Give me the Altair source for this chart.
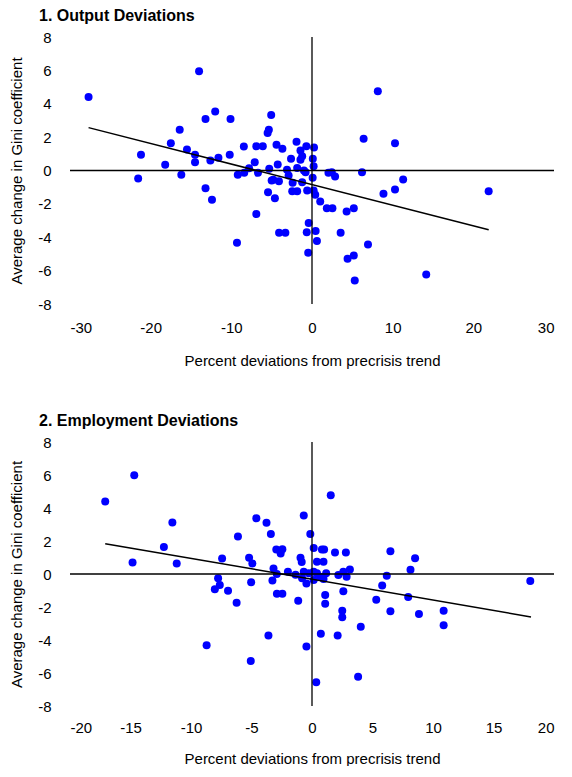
import altair as alt
import pandas as pd

# ---- Panel 1: Output deviations ----
out_x = [-27.7, -21.2, -21.55, -18.2, -17.5, -16.4, -16.2, -15.5, -14.5, -14.5,
         -14.0, -13.2, -12.0, -13.2, -12.4, -12.6, -11.6, -10.1, -10.2, -9.3,
         -8.45, -9.2, -8.4, -7.8, -7.1, -6.7, -6.9, -6.9, -6.1,
         -5.06, -5.35, -5.5, -5.45, -5.3, -5.0, -4.8, -4.1, -4.6, -4.4,
         -3.67, -4.25, -4.08, -3.3, -3.1, -2.9, -2.6, -2.4, -2.45, -1.92,
         -1.84, -1.84, -1.43, -1.22, -1.43, -1.22, -1.0, -0.8, -0.7, -0.6,
         -0.41, -0.65, -0.47, 0.25, 0.1, 0.2, 0.08, 0.2, 0.4, 0.45, 0.61,
         1.02, 1.84, 2.53, 2.04, 2.45, 2.86, 3.55, 4.29, 5.18, 4.41,
         5.18, 5.3, 6.94, 6.2, 6.4, 8.16, 8.86, 10.29, 10.29, 11.3,
         14.16, 21.9]
out_y = [4.4, 0.94, -0.48, 0.34, 1.64, 2.44, -0.26, 1.26, 0.94, 0.5,
         5.95, 3.09, 3.53, -1.06, -1.76, 0.6, 0.76, 3.09, 0.94, -4.33,
         1.44, -0.26, -0.14, 0.14, 0.5, -0.14, -2.61, 1.46, 1.46,
         3.33, 2.44, 2.24, -1.3, 0.1, -0.6, -0.55, -0.65, -1.66, 1.54,
         1.3, 0.36, -3.73, -3.73, 0.05, -0.3, 0.7, -0.74, -1.24, 1.72,
         0.15, -1.24, 1.2, 0.85, 0.65, -0.7, 0.0, -0.1, 1.46, -1.2,
         -3.15, -3.7, -4.93, 1.38, 0.7, 0.26, -0.44, -1.2, -1.46, -3.63, -4.23,
         -1.86, -2.26, -2.26, -0.14, -0.1, -0.36, -3.73, -2.46, -2.26, -5.29,
         -5.09, -6.59, -4.43, -0.1, 1.9, 4.75, -1.4, 1.64, -1.14, -0.54,
         -6.23, -1.24]
out_fit_x = [-27.7, 21.9]
out_fit_y = [2.57, -3.55]
out_ticks = [-30, -20, -10, 0, 10, 20, 30]

# ---- Panel 2: Employment deviations ----
emp_x = [-17.09, -14.69, -14.83, -12.24, -11.54, -11.18, -8.71, -7.76, -8.03, -7.62,
         -6.94, -7.43, -6.23, -6.12, -5.2, -4.93, -5.03, -5.06, -4.6, -3.76,
         -3.4, -3.6,
         -3.18, -3.27, -2.95, -2.45, -2.59, -2.91, -2.9, -2.45, -1.99, -1.36,
         -1.14, -0.95, -0.85, -0.68, -0.46, -0.68, -0.82, -0.46, -0.27, -0.14,
         0.14, 0.14, 0.14, 0.35, 0.41, 0.41, 0.68, 0.82, 0.95, 0.95,
         1.0, 1.09, 1.09, 1.17, 1.55, 0.73,
         1.9, 2.8, 2.18, 2.59, 2.86, 3.13, 2.59, 2.5, 2.5, 2.12,
         4.03, 3.81, 5.31, 5.8, 6.18, 6.48, 6.48, 7.95, 8.14, 8.52,
         8.84, 10.88, 10.88, 18.04]
emp_y = [4.4, 5.98, 0.7, 1.64, 3.12, 0.64, -4.32, -0.26, -0.92, -0.66,
         -1.02, 0.94, -1.74, 2.28, 0.98, 0.64, -0.5, -5.28, 3.38, 3.1,
         2.42, -3.72,
         0.34, -0.4, 1.48, 1.5, 1.24, 0.0, -1.2, -1.2, 0.14, -0.04,
         -1.62, 0.98, 0.72, 3.54, -4.4, 0.14, -0.26, -0.58, 0.04, 2.42,
         1.58, 0.14, -0.36, -6.56, 0.04, 0.74, -0.16, 1.48, -0.3, 0.74,
         1.48, -1.28, -1.8, 0.04, 4.78, -3.62,
         1.3, 1.3, -0.06, 0.14, -0.16, 0.28, -1.04, -2.22, -2.62, -3.72,
         -3.2, -6.22, -1.56, -0.7, -0.1, 1.38, -2.26, -1.4, 0.26, 0.96,
         -2.42, -2.22, -3.1, -0.42]
emp_fit_x = [-17.09, 18.1]
emp_fit_y = [1.84, -2.6]
emp_ticks = [-20, -15, -10, -5, 0, 5, 10, 15, 20]

y_ticks = [-8, -6, -4, -2, 0, 2, 4, 6, 8]

FONT = "Liberation Sans, Arial, sans-serif"
W = 484


def panel(xs, ys, fx, fy, xdom, xticks, title, h, lp, tp):
    pts = pd.DataFrame({"x": xs, "y": ys})
    fit = pd.DataFrame({"x": fx, "y": fy})
    zero_df = pd.DataFrame({"x": [0], "y": [0]})
    xsc = alt.Scale(domain=xdom, nice=False, zero=False)
    ysc = alt.Scale(domain=[-8, 8], nice=False, zero=False)
    xax = alt.Axis(values=xticks, domain=False, ticks=False, grid=False,
                   labelPadding=lp, titlePadding=tp, labelOverlap=False,
                   labelExpr="'' + datum.value",
                   title="Percent deviations from precrisis trend")
    yax = alt.Axis(values=y_ticks, domain=False, ticks=False, grid=False,
                   labelPadding=19, titlePadding=13, labelOverlap=False,
                   labelExpr="'' + datum.value",
                   title="Average change in Gini coefficient")
    X = alt.X("x:Q", scale=xsc, axis=xax)
    Y = alt.Y("y:Q", scale=ysc, axis=yax)
    points = alt.Chart(pts).mark_circle(size=64, color="#0000FF", opacity=1).encode(
        x=X, y=Y)
    hrule = alt.Chart(zero_df).mark_rule(color="black", strokeWidth=1.3).encode(y=Y)
    vrule = alt.Chart(zero_df).mark_rule(color="black", strokeWidth=1.3).encode(x=X)
    line = alt.Chart(fit).mark_line(color="black", strokeWidth=1.5).encode(x=X, y=Y)
    return alt.layer(points, hrule, vrule, line).properties(
        width=W, height=h,
        title=alt.TitleParams(title, anchor="start", frame="group", dx=-31,
                              fontSize=16, fontWeight="bold", font=FONT,
                              color="black", offset=6),
    )


top = panel(out_x, out_y, out_fit_x, out_fit_y, [-30, 30], out_ticks,
            "1. Output Deviations", 267, 16.5, 17.5)
bottom = panel(emp_x, emp_y, emp_fit_x, emp_fit_y, [-20, 20], emp_ticks,
               "2. Employment Deviations", 264, 14.5, 15.5)

chart = alt.vconcat(top, bottom, spacing=45).properties(
    padding={"left": 1, "top": 0, "right": 0, "bottom": 0}
).configure_view(strokeWidth=0).configure_axis(
    labelFont=FONT, titleFont=FONT, labelFontSize=15, titleFontSize=15,
    labelColor="black", titleColor="black", titleFontWeight="normal"
)

chart.save("out.html", embed_options={"renderer": "svg", "actions": False})
